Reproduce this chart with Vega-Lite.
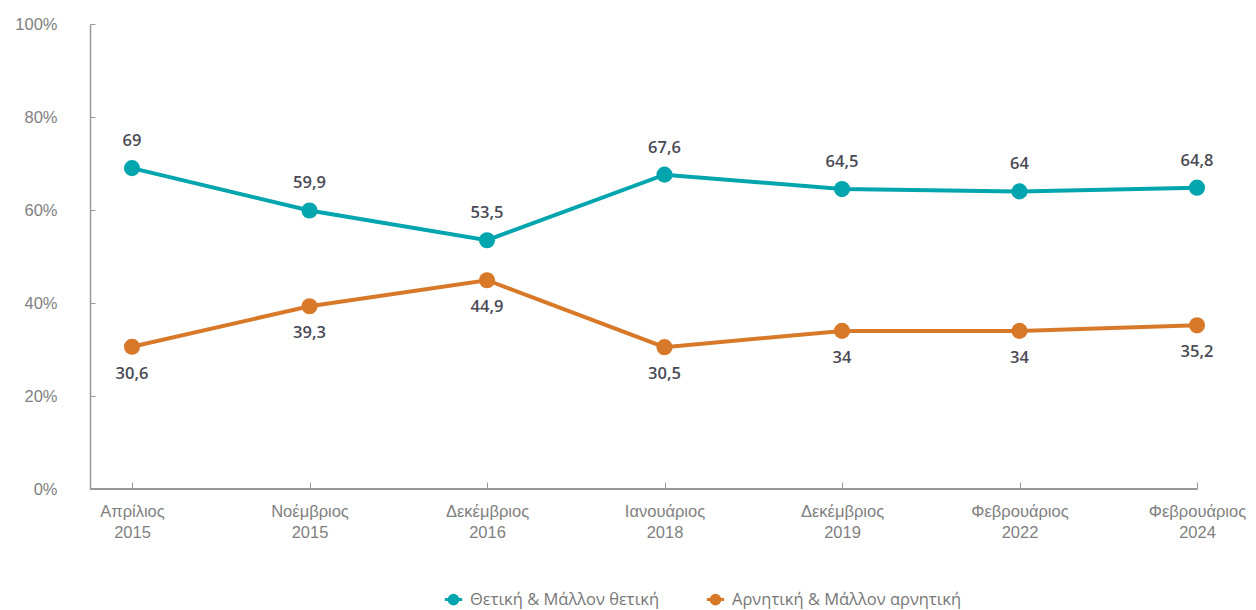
{
  "$schema": "https://vega.github.io/schema/vega-lite/v6.json",
  "width": 1107,
  "height": 465,
  "autosize": "none",
  "padding": {"left": 90, "top": 24, "right": 59, "bottom": 121},
  "background": "white",
  "config": {
    "view": {"stroke": null},
    "font": "Open Sans",
    "locale": {"number": {"decimal": ",", "thousands": ".", "grouping": [3], "currency": ["", " €"]}}
  },
  "data": {
    "values": [
      {"period": "Απρίλιος 2015", "series": "Θετική & Μάλλον θετική", "value": 69},
      {"period": "Νοέμβριος 2015", "series": "Θετική & Μάλλον θετική", "value": 59.9},
      {"period": "Δεκέμβριος 2016", "series": "Θετική & Μάλλον θετική", "value": 53.5},
      {"period": "Ιανουάριος 2018", "series": "Θετική & Μάλλον θετική", "value": 67.6},
      {"period": "Δεκέμβριος 2019", "series": "Θετική & Μάλλον θετική", "value": 64.5},
      {"period": "Φεβρουάριος 2022", "series": "Θετική & Μάλλον θετική", "value": 64},
      {"period": "Φεβρουάριος 2024", "series": "Θετική & Μάλλον θετική", "value": 64.8},
      {"period": "Απρίλιος 2015", "series": "Αρνητική & Μάλλον αρνητική", "value": 30.6},
      {"period": "Νοέμβριος 2015", "series": "Αρνητική & Μάλλον αρνητική", "value": 39.3},
      {"period": "Δεκέμβριος 2016", "series": "Αρνητική & Μάλλον αρνητική", "value": 44.9},
      {"period": "Ιανουάριος 2018", "series": "Αρνητική & Μάλλον αρνητική", "value": 30.5},
      {"period": "Δεκέμβριος 2019", "series": "Αρνητική & Μάλλον αρνητική", "value": 34},
      {"period": "Φεβρουάριος 2022", "series": "Αρνητική & Μάλλον αρνητική", "value": 34},
      {"period": "Φεβρουάριος 2024", "series": "Αρνητική & Μάλλον αρνητική", "value": 35.2}
    ]
  },
  "encoding": {
    "x": {
      "field": "period", "type": "nominal", "sort": null,
      "scale": {"type": "point", "range": [42, 1107], "padding": 0},
      "axis": {
        "title": null, "labelAngle": 0, "domain": false,
        "labelExpr": "split(datum.label, ' ')",
        "labelFont": "Liberation Sans", "labelFontSize": 16.5, "labelColor": "#808080",
        "labelLineHeight": 21,
        "tickColor": "#999999", "tickSize": -7, "tickWidth": 1,
        "labelPadding": 21
      }
    },
    "y": {
      "field": "value", "type": "quantitative",
      "scale": {"domain": [0, 100], "nice": false},
      "axis": {
        "title": null, "values": [0, 20, 40, 60, 80, 100], "grid": false,
        "labelExpr": "datum.value + '%'",
        "labelFont": "Liberation Sans", "labelFontSize": 16.5, "labelColor": "#808080",
        "domainColor": "#999999", "domainWidth": 1.5,
        "tickColor": "#999999", "tickSize": -5, "tickWidth": 1,
        "labelPadding": 38
      }
    },
    "color": {
      "field": "series", "type": "nominal",
      "scale": {"domain": ["Θετική & Μάλλον θετική", "Αρνητική & Μάλλον αρνητική"], "range": ["#00A5AE", "#D8792A"]},
      "legend": {
        "title": null, "orient": "none", "direction": "horizontal",
        "legendX": 353, "legendY": 565,
        "labelFont": "Open Sans", "labelFontSize": 16.5, "labelColor": "#777777", "labelLimit": 400,
        "symbolType": "M-1,0L1,0M-0.5,0A0.5,0.5 0 1,1 0.5,0A0.5,0.5 0 1,1 -0.5,0Z",
        "symbolSize": 300, "symbolStrokeWidth": 3,
        "columnPadding": 40, "labelOffset": 6,
        "encode": {"symbols": {"update": {"fill": {"scale": "color", "field": "value"}, "stroke": {"scale": "color", "field": "value"}}}}
      }
    }
  },
  "layer": [
    {"mark": {"type": "rule", "color": "#999999", "strokeWidth": 1.5}, "encoding": {"y": {"datum": 0}, "x": null, "color": null}},
    {"mark": {"type": "line", "strokeWidth": 4}},
    {"mark": {"type": "point", "filled": true, "size": 260, "opacity": 1}},
    {
      "transform": [{"filter": "datum.series == 'Θετική & Μάλλον θετική'"}],
      "mark": {"type": "text", "dy": -27, "fontSize": 16.5, "fontWeight": 600, "color": "#4a4a55", "font": "Open Sans"},
      "encoding": {"text": {"field": "value", "type": "quantitative", "format": ",.1~f"}, "color": null}
    },
    {
      "transform": [{"filter": "datum.series == 'Αρνητική & Μάλλον αρνητική'"}],
      "mark": {"type": "text", "dy": 27, "fontSize": 16.5, "fontWeight": 600, "color": "#4a4a55", "font": "Open Sans"},
      "encoding": {"text": {"field": "value", "type": "quantitative", "format": ",.1~f"}, "color": null}
    }
  ]
}
